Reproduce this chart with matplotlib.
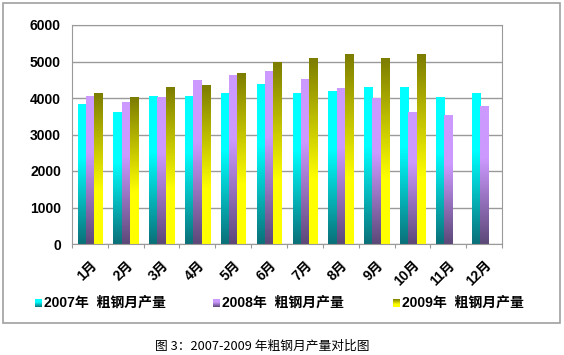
import numpy as np
import matplotlib
matplotlib.use("Agg")
import matplotlib.pyplot as plt
from matplotlib.colors import LinearSegmentedColormap
from matplotlib.patches import Rectangle

# monthly crude steel output
months = ['1月', '2月', '3月', '4月', '5月', '6月', '7月', '8月', '9月', '10月', '11月', '12月']
y2007 = [3835, 3610, 4035, 4030, 4120, 4375, 4120, 4170, 4280, 4290, 4010, 4120]
y2008 = [4045, 3870, 4025, 4475, 4610, 4720, 4500, 4270, 3980, 3590, 3530, 3780]
y2009 = [4120, 4025, 4290, 4345, 4665, 4960, 5085, 5185, 5085, 5200, np.nan, np.nan]
series_names = ['2007年  粗钢月产量', '2008年  粗钢月产量', '2009年  粗钢月产量']

# vertical gradients, 0 = bottom of bar, 1 = top
cmaps = [
    LinearSegmentedColormap.from_list('c07', [(0, '#0b6f78'), (0.62, '#00ffff'), (1, '#00ffff')]),
    LinearSegmentedColormap.from_list('c08', [(0, '#5c4878'), (0.62, '#cc99ff'), (1, '#cc99ff')]),
    LinearSegmentedColormap.from_list('c09', [(0, '#ffff00'), (0.35, '#ffff00'), (1, '#7c7c00')]),
]

latin = ['Liberation Sans', 'Noto Sans CJK SC']
W, H = 564, 355

fig = plt.figure(figsize=(W / 100, H / 100), dpi=100)
ax = fig.add_axes([72 / W, 1 - 244 / H, 430 / W, 219 / H])

x = np.arange(len(months))
w = 0.23
grad = np.linspace(0, 1, 256).reshape(-1, 1)
for i, vals in enumerate([y2007, y2008, y2009]):
    bars = ax.bar(x + (i - 1) * w, vals, w, color='none', edgecolor='none')
    for b in bars:
        h = b.get_height()
        if not np.isfinite(h):
            continue
        x0 = b.get_x()
        ax.imshow(grad, cmap=cmaps[i], origin='lower', aspect='auto',
                  extent=(x0, x0 + b.get_width(), 0, h), zorder=2,
                  interpolation='bilinear')

ax.set_xlim(-0.5, len(months) - 0.5)
ax.set_ylim(0, 6000)
ax.set_yticks(np.arange(0, 6001, 1000))
ax.yaxis.grid(True, color='#9a9a9a', linewidth=1)
ax.set_axisbelow(True)
for s in ax.spines.values():
    s.set_color('#9a9a9a')
ax.tick_params(axis='y', length=0, pad=8)
for lab in ax.get_yticklabels():
    lab.set_family(latin)
    lab.set_fontweight('bold')
    lab.set_fontsize(10)

# category ticks between groups, labels centred on groups
ax.set_xticks(np.arange(-0.5, len(months)), minor=False)
ax.set_xticklabels([])
ax.tick_params(axis='x', length=3, color='#9a9a9a', direction='out')
ax.set_xticks(x, minor=True)
ax.set_xticklabels(months, minor=True, rotation=45, ha='right',
                   rotation_mode='anchor', fontweight='bold', fontsize=10, family=latin)
ax.tick_params(axis='x', which='minor', length=0, pad=10)

# legend: small gradient squares + labels
legend_x = [35, 213, 393]
for i, name in enumerate(series_names):
    lx = legend_x[i]
    sax = fig.add_axes([lx / W, 1 - 307 / H, 7 / W, 8 / H])
    sax.imshow(grad, cmap=cmaps[i], origin='lower', aspect='auto', interpolation='bilinear')
    sax.axis('off')
    fig.text((lx + 9) / W, 1 - 303 / H, name, ha='left', va='center',
             family=latin, fontweight='bold', fontsize=10)

# outer chart frame
fig.patches.append(Rectangle((3 / W, 1 - 323 / H), 557 / W, 320 / H,
                             transform=fig.transFigure, fill=False,
                             edgecolor='#a0a0a0', linewidth=1.2))

fig.text(262 / W, 1 - 346 / H, '图 3：2007-2009 年粗钢月产量对比图',
         ha='center', va='center', fontsize=9.2, family=['Noto Sans CJK SC', 'DejaVu Sans'])

fig.savefig('out.png', dpi=100)
